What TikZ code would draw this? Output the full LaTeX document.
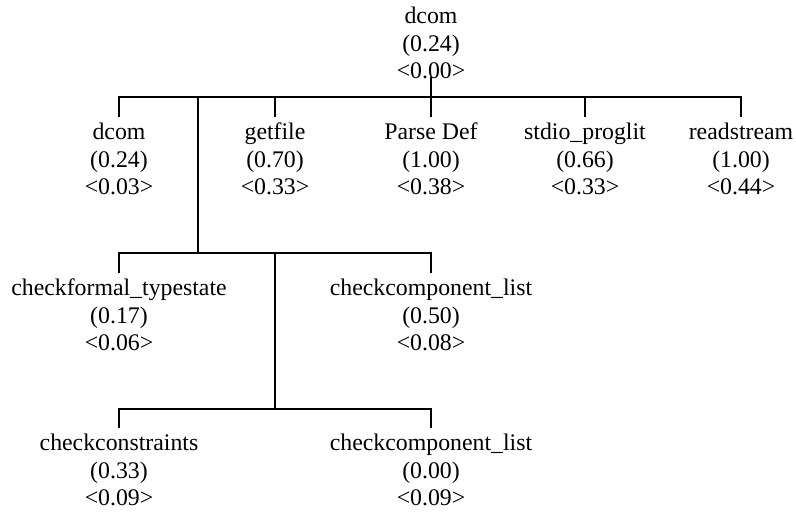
\documentclass[tikz,border=0pt]{standalone}
\usepackage{fontspec}
\setmainfont{Liberation Serif}
\begin{document}
\begin{tikzpicture}[x=1pt,y=-1pt,
  item/.style={anchor=north,align=center,inner sep=0pt,outer ysep=6pt,
    font=\fontsize{23.8}{27.6}\selectfont},
  edge/.style={line width=2pt}]
\useasboundingbox (0,0) rectangle (796,512);

% root
\node[item] (root) at (431,1) {dcom\\(0.24)\\<0.00>};

% first level
\node[item] (dcom)    at (119,117) {dcom\\(0.24)\\<0.03>};
\node[item] (getfile) at (275,117) {getfile\\(0.70)\\<0.33>};
\node[item] (parse)   at (431,117) {Parse Def\\(1.00)\\<0.38>};
\node[item] (stdio)   at (585,117) {stdio\_proglit\\(0.66)\\<0.33>};
\node[item] (readst)  at (741,117) {readstream\\(1.00)\\<0.44>};

% second level
\node[item] (cft)  at (119,273) {checkformal\_typestate\\(0.17)\\<0.06>};
\node[item] (ccl1) at (431,273) {checkcomponent\_list\\(0.50)\\<0.08>};

% third level
\node[item] (ccons) at (119,428) {checkconstraints\\(0.33)\\<0.09>};
\node[item] (ccl2)  at (431,428) {checkcomponent\_list\\(0.00)\\<0.09>};

% branch points
\coordinate (b0) at (431,97);
\coordinate (j1) at (198,97);
\coordinate (j2) at (198,253);
\coordinate (j3) at (275,253);
\coordinate (j4) at (275,409);

% first level connectors
\draw[edge] ([yshift=8pt]root.south) -- (parse.north);
\draw[edge] (dcom.north) |- (b0) -| (readst.north);
\draw[edge] (getfile.north) -- (getfile.north |- b0);
\draw[edge] (stdio.north) -- (stdio.north |- b0);

% second level connectors
\draw[edge] (j1) -- (j2);
\draw[edge] (cft.north) |- (j2) -| (ccl1.north);

% third level connectors
\draw[edge] (j3) -- (j4);
\draw[edge] (ccons.north) |- (j4) -| (ccl2.north);
\end{tikzpicture}
\end{document}
